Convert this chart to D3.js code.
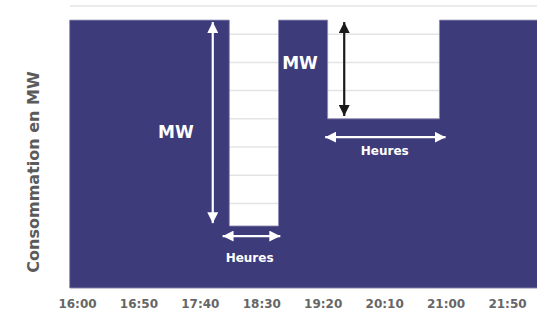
<!DOCTYPE html>
<html>
<head>
<meta charset="utf-8">
<script src="https://cdn.jsdelivr.net/npm/d3@7"></script>
<style>
  body { margin: 0; background: #fff; }
  svg { display: block; }
  .tick-label { font-family: "DejaVu Sans", sans-serif; font-weight: bold; font-size: 12px; fill: #666; }
  .y-title { font-family: "DejaVu Sans", sans-serif; font-weight: bold; font-size: 16px; fill: #5b5b5b; }
  .note { font-family: "DejaVu Sans", sans-serif; font-weight: bold; fill: #fff; }
</style>
</head>
<body>
<div class="chart"></div>
<script>
// step profile of the consumption (time, level in grid units)
const stepTimes = ["15:54", "18:04", "18:44", "19:24", "20:55", "22:15"];
const stepValues = [9.5, 2.2, 9.5, 6, 9.5, 9.5];
const tickLabels = ["16:00", "16:50", "17:40", "18:30", "19:20", "20:10", "21:00", "21:50"];
const gridLevels = [0, 1, 2, 3, 4, 5, 6, 7, 8, 9, 10];

const width = 537;
const height = 313;

const toMin = (t) => {
  const [h, m] = t.split(":").map(Number);
  return (h - 16) * 60 + m;
};

const svg = d3
  .select(".chart")
  .append("svg")
  .attr("width", width)
  .attr("height", height);

const x = d3.scaleLinear().domain([0, 350]).range([77, 507]);
const y = d3.scaleLinear().domain([0, 10]).range([288, 6]);

// grid
svg
  .append("g")
  .selectAll("line")
  .data(gridLevels)
  .join("line")
  .attr("x1", 70)
  .attr("x2", width)
  .attr("y1", (d) => y(d))
  .attr("y2", (d) => y(d))
  .attr("stroke", "#e4e4e4")
  .attr("stroke-width", 1.5);

// area
const data = stepTimes.map((t, i) => ({ m: toMin(t), v: stepValues[i] }));
const area = d3
  .area()
  .curve(d3.curveStepAfter)
  .x((d) => x(d.m))
  .y0(y(0))
  .y1((d) => y(d.v));

svg
  .append("path")
  .datum(data)
  .attr("d", area)
  .attr("fill", "#3e3b7a")
  .attr("stroke", "#8f8db5")
  .attr("stroke-width", 0.8);

// x axis labels
const xAxis = d3
  .axisBottom(x)
  .tickValues(tickLabels.map(toMin))
  .tickFormat((d, i) => tickLabels[i])
  .tickSize(0)
  .tickPadding(0);

const gx = svg.append("g").attr("transform", `translate(0, 299)`).call(xAxis);
gx.select(".domain").remove();
gx.selectAll("text").attr("class", "tick-label").attr("dy", "0.71em").attr("fill", null);

// y title
svg
  .append("text")
  .attr("class", "y-title")
  .attr("transform", `translate(39, 172) rotate(-90)`)
  .attr("text-anchor", "middle")
  .text("Consommation en MW");

// arrow markers
const defs = svg.append("defs");
[["white", "#ffffff"], ["black", "#1a1a1a"]].forEach(([name, color]) => {
  defs
    .append("marker")
    .attr("id", "head-" + name)
    .attr("viewBox", "0 0 10 10")
    .attr("refX", 10)
    .attr("refY", 5)
    .attr("markerUnits", "userSpaceOnUse")
    .attr("markerWidth", 11)
    .attr("markerHeight", 11)
    .attr("orient", "auto-start-reverse")
    .append("path")
    .attr("d", "M0,0 L10,5 L0,10 Z")
    .attr("fill", color);
});

const arrow = (x1, y1, x2, y2, name, color) => {
  svg
    .append("line")
    .attr("x1", x(x1))
    .attr("y1", y(y1))
    .attr("x2", x(x2))
    .attr("y2", y(y2))
    .attr("stroke", color)
    .attr("stroke-width", 2.2)
    .attr("marker-start", `url(#head-${name})`)
    .attr("marker-end", `url(#head-${name})`);
};

arrow(110.5, 9.43, 110.5, 2.3, "white", "#ffffff");
arrow(217.5, 9.43, 217.5, 6.1, "black", "#1a1a1a");
arrow(118.5, 1.84, 165.5, 1.84, "white", "#ffffff");
arrow(202, 5.35, 300, 5.35, "white", "#ffffff");

// labels
const note = (m, v, size, txt) => {
  svg
    .append("text")
    .attr("class", "note")
    .attr("x", x(m))
    .attr("y", y(v))
    .attr("text-anchor", "middle")
    .attr("font-size", size)
    .text(txt);
};

note(80.5, 5.32, 17, "MW");
note(181.5, 7.77, 17, "MW");
note(140.5, 0.92, 12, "Heures");
note(250.5, 4.72, 12, "Heures");
</script>
</body>
</html>
